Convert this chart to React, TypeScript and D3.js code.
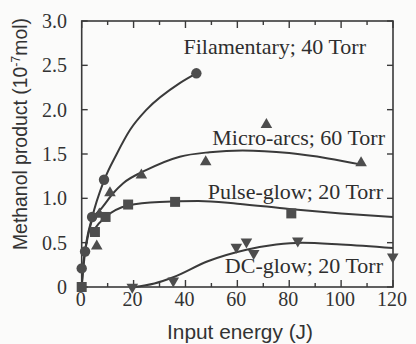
import React from "react";
import * as d3 from "d3";

// ---- data ----
const filamentaryPts: [number, number][] = [
  [0, 0.21], [1.3, 0.4], [4, 0.79], [8.6, 1.21], [44.2, 2.41],
];
const filamentaryFit: [number, number][] = [
  [0, 0], [1.3, 0.4], [4, 0.78], [8.6, 1.2], [13.5, 1.5], [18.6, 1.77], [25, 2.0], [37.8, 2.3], [44.2, 2.41],
];

const microPts: [number, number][] = [
  [5.8, 0.46], [6.8, 0.82], [10.9, 1.06], [23, 1.26], [47.8, 1.41], [71.2, 1.83], [107.7, 1.4],
];
const microFit: [number, number][] = [
  [4.3, 0.79], [7.4, 0.88], [12.2, 1.06], [16, 1.17], [25, 1.32], [37.8, 1.47], [49.3, 1.52], [62, 1.54], [80, 1.51], [95, 1.45], [108, 1.38],
];

const pulsePts: [number, number][] = [
  [0, 0], [5.1, 0.62], [9.2, 0.79], [17.9, 0.93], [36, 0.96], [80.8, 0.83],
];
const pulseFit: [number, number][] = [
  [4.3, 0.62], [5.1, 0.66], [9.2, 0.79], [17.9, 0.92], [30, 0.96], [45, 0.97], [60, 0.94], [80, 0.88], [100, 0.83], [120, 0.79],
];

const dcPts: [number, number][] = [
  [19.5, 0], [35.3, 0.07], [59.6, 0.45], [63.5, 0.51], [66.3, 0.38], [83.3, 0.52], [119.9, 0.34],
];
const dcFit: [number, number][] = [
  [20, 0], [28, 0.04], [35.3, 0.11], [48.6, 0.29], [63.5, 0.42], [75, 0.48], [85, 0.5], [100, 0.48], [120, 0.44],
];

const xTicks = [0, 20, 40, 60, 80, 100, 120];
const xMinor = [10, 30, 50, 70, 90, 110];
const yTicks = [0, 0.5, 1.0, 1.5, 2.0, 2.5, 3.0];
const yTickLabels = ["0", "0.5", "1.0", "1.5", "2.0", "2.5", "3.0"];

const labels = [
  { text: "Filamentary; 40 Torr", x: 366, y: 54 },
  { text: "Micro-arcs; 60 Torr", x: 385, y: 145 },
  { text: "Pulse-glow; 20 Torr", x: 383, y: 199 },
  { text: "DC-glow; 20 Torr", x: 383, y: 273 },
];

export default function App() {
  const W = 416, H = 344;
  const L = 81.7, R = 393, T = 21, B = 287;
  const x = d3.scaleLinear().domain([0, 120]).range([L, R]);
  const y = d3.scaleLinear().domain([0, 3]).range([B, T]);
  const line = d3
    .line<[number, number]>()
    .x((d) => x(d[0]))
    .y((d) => y(d[1]))
    .curve(d3.curveMonotoneX);

  // shared lower stem from origin to the cluster
  const stem: [number, number][] = [[0, 0], [0.4, 0.2], [1.3, 0.4], [2.6, 0.6], [4.3, 0.79]];

  const ink = "#3a3a3a";
  const mark = "#4d4d4d";
  const serif = "'Liberation Serif', 'Times New Roman', serif";
  const sans = "'Liberation Sans', Arial, sans-serif";

  const tri = d3.symbol().type(d3.symbolTriangle).size(58)();
  const sq = d3.symbol().type(d3.symbolSquare).size(100)();

  return (
    <svg
      width={W}
      height={H}
      style={{ position: "absolute", left: 0, top: 0, background: "#fbfbfa" }}
    >
      <rect x={0} y={0} width={W} height={H} fill="#fbfbfa" />
      {/* lines */}
      <g fill="none" stroke={ink} strokeWidth={2}>
        <path d={line(stem) || ""} />
        <path d={line(filamentaryFit) || ""} />
        <path d={line(microFit) || ""} />
        <path d={line(pulseFit) || ""} />
        <path d={line(dcFit) || ""} />
      </g>
      {/* frame */}
      <rect x={L} y={T} width={R - L} height={B - T} fill="none" stroke={ink} strokeWidth={1.6} />
      {/* ticks */}
      <g stroke={ink} strokeWidth={1.4}>
        {xTicks.map((t) => (
          <g key={"xt" + t}>
            <line x1={x(t)} x2={x(t)} y1={B} y2={B - 7} />
            <line x1={x(t)} x2={x(t)} y1={T} y2={T + 7} />
          </g>
        ))}
        {xMinor.map((t) => (
          <g key={"xm" + t}>
            <line x1={x(t)} x2={x(t)} y1={B} y2={B - 4} />
            <line x1={x(t)} x2={x(t)} y1={T} y2={T + 4} />
          </g>
        ))}
        {yTicks.map((t) => (
          <g key={"yt" + t}>
            <line x1={L} x2={L + 6} y1={y(t)} y2={y(t)} />
            <line x1={R} x2={R - 6} y1={y(t)} y2={y(t)} />
          </g>
        ))}
      </g>
      {/* tick labels */}
      <g fill="#333" fontFamily={serif} fontSize={20}>
        {xTicks.map((t) => (
          <text key={"xl" + t} x={x(t) - 1} y={306} textAnchor="middle">
            {t}
          </text>
        ))}
        {yTicks.map((t, i) => (
          <text key={"yl" + t} x={67} y={y(t)} dy="0.35em" textAnchor="end">
            {yTickLabels[i]}
          </text>
        ))}
      </g>
      {/* markers */}
      <g fill={mark}>
        {filamentaryPts.map((d, i) => (
          <circle key={"c" + i} cx={x(d[0])} cy={y(d[1])} r={5.2} />
        ))}
        {microPts.map((d, i) => (
          <path key={"t" + i} d={tri || ""} transform={`translate(${x(d[0])},${y(d[1])})`} />
        ))}
        {pulsePts.map((d, i) => (
          <path key={"s" + i} d={sq || ""} transform={`translate(${x(d[0])},${y(d[1])})`} />
        ))}
        {dcPts.map((d, i) => (
          <path key={"d" + i} d={tri || ""} transform={`translate(${x(d[0])},${y(d[1])}) rotate(180)`} />
        ))}
      </g>
      {/* annotations */}
      <g fill="#2e2e2e" fontFamily={serif} fontSize={22}>
        {labels.map((l) => (
          <text key={l.text} x={l.x} y={l.y} textAnchor="end">
            {l.text}
          </text>
        ))}
      </g>
      {/* axis titles */}
      <text
        x={240}
        y={339}
        textAnchor="middle"
        fontFamily={sans}
        fontSize={19.5}
        fill="#333"
        textLength={146}
        lengthAdjust="spacingAndGlyphs"
      >
        Input energy (J)
      </text>
      <text
        transform={`translate(27,134) rotate(-90)`}
        textAnchor="middle"
        fontFamily={sans}
        fontSize={19.4}
        fill="#333"
      >
        Methanol product (10<tspan dy="-7" fontSize={12.5}>-7</tspan>
        <tspan dy="7">mol)</tspan>
      </text>
    </svg>
  );
}
